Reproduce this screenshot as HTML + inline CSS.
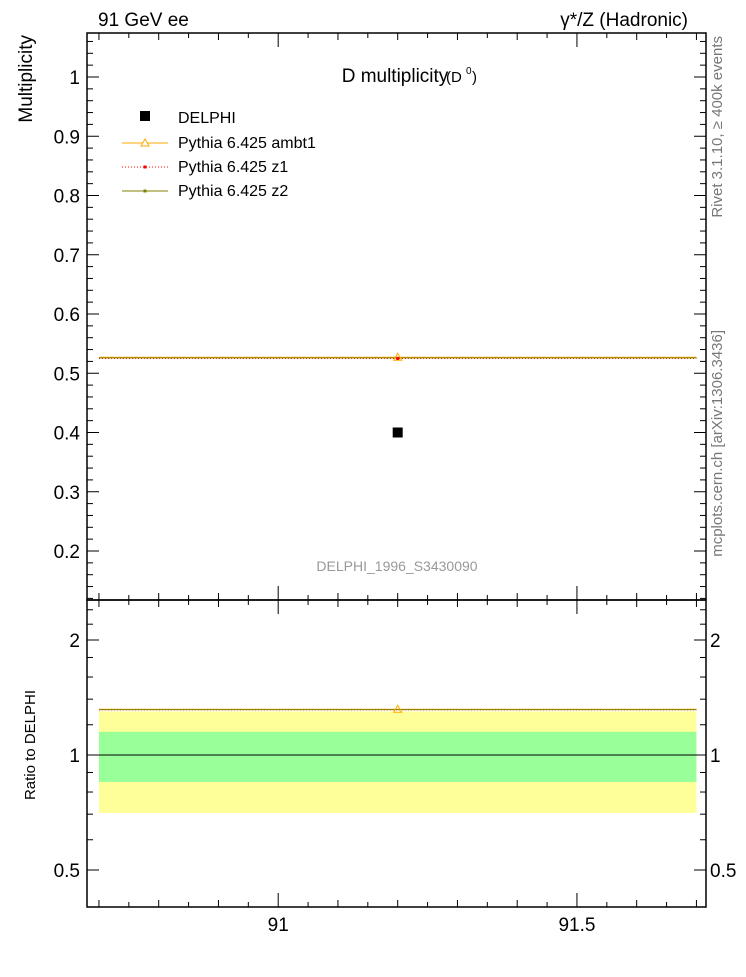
<!DOCTYPE html>
<html><head><meta charset="utf-8"><style>
body{margin:0;background:#fff;}
svg text{font-family:"Liberation Sans",sans-serif;}
</style></head><body>
<svg id="c" width="746" height="972" xmlns="http://www.w3.org/2000/svg">
<g id="g"></g>
</svg>
<script>
const xDomain=[90.68,91.716];
const mainTicks=[0.2,0.3,0.4,0.5,0.6,0.7,0.8,0.9,1];
const ratioTicks=[0.5,1,2];
const xTicks=[91,91.5];
const dataX=[91.2];
const dataY=[0.40];
const dataErr=[0.003];
const mcBins=[[90.7,91.7]];
const mcAmbt1=[0.527];
const mcZ1=[0.525];
const mcZ2=[0.526];
const bandInner=[0.85,1.15];
const bandOuter=[0.705,1.3];

const NS="http://www.w3.org/2000/svg";
const g=document.getElementById('g');
const L=87,R=706,T=33,M=600,B=907;
const sx=v=>L+(v-xDomain[0])/(xDomain[1]-xDomain[0])*(R-L);
const sy=v=>77+(1-v)*592.5;
const sr=v=>755-Math.log2(v)*115;
function el(t,a,name,txt){const e=document.createElementNS(NS,t);for(const k in a)e.setAttribute(k,a[k]);


if(txt!==undefined)e.textContent=txt;g.appendChild(e);return e;}

// ratio bands
el('rect',{x:sx(mcBins[0][0]),y:sr(bandOuter[1]),width:sx(mcBins[0][1])-sx(mcBins[0][0]),height:sr(bandOuter[0])-sr(bandOuter[1]),fill:'#ffff99'},'ratio-band-outer');
el('rect',{x:sx(mcBins[0][0]),y:sr(bandInner[1]),width:sx(mcBins[0][1])-sx(mcBins[0][0]),height:sr(bandInner[0])-sr(bandInner[1]),fill:'#99ff99'},'ratio-band-inner');
el('line',{x1:L,x2:R,y1:sr(1),y2:sr(1),stroke:'#000'},'ratio-unity-line');

// frames
el('rect',{x:L,y:T,width:R-L,height:M-T,fill:'none',stroke:'#000','stroke-width':1.5},'main-frame');
el('rect',{x:L,y:M,width:R-L,height:B-M,fill:'none',stroke:'#000','stroke-width':1.5},'ratio-frame');

// main y ticks
for(let v=0.12;v<=1.07;v+=0.02){const y=sy(v);const maj=Math.abs(v*10-Math.round(v*10))<1e-6;const len=maj?12:6;
el('line',{x1:L,x2:L+len,y1:y,y2:y,stroke:'#000'},'y-tick');el('line',{x1:R,x2:R-len,y1:y,y2:y,stroke:'#000'},'y-tick');}
mainTicks.forEach(v=>el('text',{x:80,y:sy(v)+7,'text-anchor':'end','font-size':19},'y-tick-label',String(v)));
// ratio ticks
[0.4,0.5,0.6,0.7,0.8,0.9,1,1.2,1.4,1.6,1.8,2,2.2,2.4].forEach(v=>{const y=sr(v);const maj=ratioTicks.includes(v);const len=maj?12:6;
el('line',{x1:L,x2:L+len,y1:y,y2:y,stroke:'#000'},'ratio-tick');el('line',{x1:R,x2:R-len,y1:y,y2:y,stroke:'#000'},'ratio-tick');});
ratioTicks.forEach(v=>{el('text',{x:80,y:sr(v)+7,'text-anchor':'end','font-size':19},'ratio-tick-label',String(v));
el('text',{x:710,y:sr(v)+7,'font-size':19},'ratio-tick-label-right',String(v));});
// x ticks
for(let v=90.7;v<=91.71;v+=0.05){const x=sx(v);const maj=Math.abs(v*10-Math.round(v*10))<1e-6?(Math.abs(v*2-Math.round(v*2))<1e-6?14:7):5;
[[T,1],[M,-1],[M,1],[B,-1]].forEach(([y0,d])=>el('line',{x1:x,x2:x,y1:y0,y2:y0+d*(maj>5?maj:5),stroke:'#000'},'x-tick'));}
xTicks.forEach(v=>el('text',{x:sx(v),y:931,'text-anchor':'middle','font-size':19},'x-tick-label',String(v)));

// MC lines main
mcBins.forEach((b,i)=>{
el('line',{x1:sx(b[0]),x2:sx(b[1]),y1:sy(mcAmbt1[i]),y2:sy(mcAmbt1[i]),stroke:'#ffaa00'},'ambt1-line');
el('line',{x1:sx(b[0]),x2:sx(b[1]),y1:sy(mcZ1[i]),y2:sy(mcZ1[i]),stroke:'#ff0000','stroke-dasharray':'1,2'},'z1-line');
el('line',{x1:sx(b[0]),x2:sx(b[1]),y1:sy(mcZ2[i]),y2:sy(mcZ2[i]),stroke:'#808000'},'z2-line');
const cx=sx((b[0]+b[1])/2);
el('path',{d:`M${cx-4},${sy(mcAmbt1[i])+3}L${cx+4},${sy(mcAmbt1[i])+3}L${cx},${sy(mcAmbt1[i])-4}Z`,fill:'none',stroke:'#ffaa00'},'ambt1-marker');
el('rect',{x:cx-1.5,y:sy(mcZ1[i])-1.5,width:3,height:3,fill:'#ff0000'},'z1-marker');
// ratio
const r=mcAmbt1[i]/dataY[i], r2=mcZ2[i]/dataY[i], r1=mcZ1[i]/dataY[i];
el('line',{x1:sx(b[0]),x2:sx(b[1]),y1:sr(r),y2:sr(r),stroke:'#ffaa00'},'ambt1-ratio-line');
el('line',{x1:sx(b[0]),x2:sx(b[1]),y1:sr(r1),y2:sr(r1),stroke:'#ff0000','stroke-dasharray':'1,2'},'z1-ratio-line');
el('line',{x1:sx(b[0]),x2:sx(b[1]),y1:sr(r2),y2:sr(r2),stroke:'#808000'},'z2-ratio-line');
el('path',{d:`M${cx-4},${sr(r)+3}L${cx+4},${sr(r)+3}L${cx},${sr(r)-4}Z`,fill:'none',stroke:'#ffaa00'},'ambt1-ratio-marker');
});
// data
dataX.forEach((x,i)=>{el('line',{x1:sx(x),x2:sx(x),y1:sy(dataY[i]+dataErr[i]),y2:sy(dataY[i]-dataErr[i]),stroke:'#000'},'delphi-errorbar');
el('rect',{x:sx(x)-5,y:sy(dataY[i])-5,width:10,height:10,fill:'#000'},'delphi-point');});

// labels
el('text',{x:98,y:26,'font-size':19},'energy-label','91 GeV ee');
el('text',{x:688,y:26,'font-size':19,'text-anchor':'end'},'process-label','γ*/Z (Hadronic)');
el('text',{x:395,y:82,'font-size':19,'text-anchor':'middle'},'plot-title','D multiplicity');
el('text',{x:446,y:82,'font-size':15},'plot-title-sub','(D');
el('text',{x:466,y:74,'font-size':10},'plot-title-sup','0');
el('text',{x:472,y:82,'font-size':15},'plot-title-close',')');
el('text',{x:397,y:571,'font-size':14,'text-anchor':'middle',fill:'#999'},'analysis-id','DELPHI_1996_S3430090');
el('text',{x:0,y:0,'font-size':19,'text-anchor':'end',transform:'translate(32,35) rotate(-90)'},'y-axis-title','Multiplicity');
el('text',{x:0,y:0,'font-size':15,'text-anchor':'end',transform:'translate(35,690) rotate(-90)'},'ratio-axis-title','Ratio to DELPHI');
el('text',{x:0,y:0,'font-size':15,'text-anchor':'end',fill:'#777',transform:'translate(722,36) rotate(-90)'},'rivet-label','Rivet 3.1.10, ≥ 400k events');
el('text',{x:0,y:0,'font-size':15,'text-anchor':'end',fill:'#777',transform:'translate(722,330) rotate(-90)'},'mcplots-label','mcplots.cern.ch [arXiv:1306.3436]');
// legend
el('rect',{x:140,y:111,width:10,height:10,fill:'#000'},'legend-delphi-marker');
el('text',{x:178,y:123,'font-size':16},'legend-delphi','DELPHI');
el('line',{x1:122,x2:168,y1:143,y2:143,stroke:'#ffaa00'},'legend-ambt1-line');
el('path',{d:'M141,146L149,146L145,139Z',fill:'#fff',stroke:'#ffaa00'},'legend-ambt1-marker');
el('text',{x:178,y:148,'font-size':16},'legend-ambt1','Pythia 6.425 ambt1');
el('line',{x1:122,x2:168,y1:167,y2:167,stroke:'#ff0000','stroke-dasharray':'1,2'},'legend-z1-line');
el('rect',{x:143.5,y:165.5,width:3,height:3,fill:'#ff0000'},'legend-z1-marker');
el('text',{x:178,y:172,'font-size':16},'legend-z1','Pythia 6.425 z1');
el('line',{x1:122,x2:168,y1:191,y2:191,stroke:'#808000'},'legend-z2-line');
el('rect',{x:143.5,y:189.5,width:3,height:3,fill:'#808000'},'legend-z2-marker');
el('text',{x:178,y:196,'font-size':16},'legend-z2','Pythia 6.425 z2');
</script>
</body></html>
